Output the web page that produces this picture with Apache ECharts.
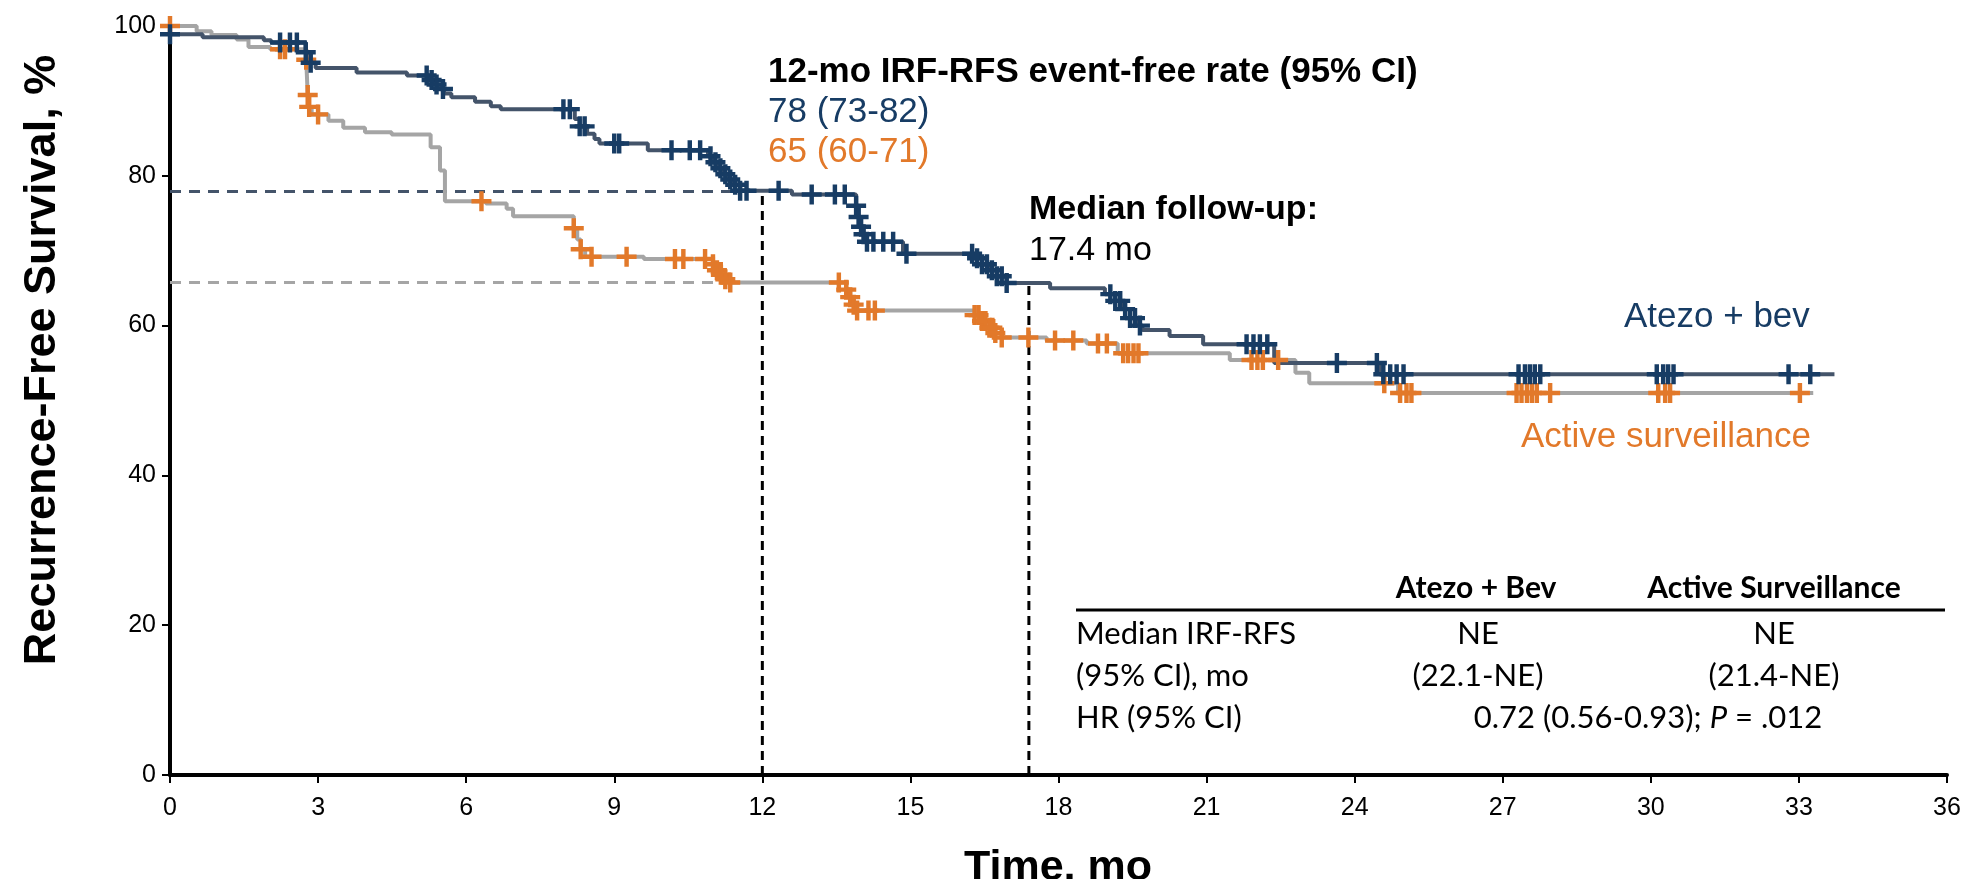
<!DOCTYPE html>
<html>
<head>
<meta charset="utf-8">
<script src="https://cdn.jsdelivr.net/npm/echarts@6/dist/echarts.min.js"></script>
<style>
  html, body { margin: 0; padding: 0; background: #fff; }
  #chart { width: 1972px; height: 879px; }
</style>
</head>
<body>
<div id="chart"></div>
<script>
// Kaplan-Meier steps: [month, survival % after the event]
const atezoSteps = [
  [0, 98.9], [0.66, 98.5], [1.9, 98.1], [2.05, 97.8], [2.75, 96.5], [2.85, 95.1], [2.95, 94.4],
  [3.78, 93.8], [4.8, 93.4], [5.25, 92.8], [5.35, 92.2], [5.45, 91.6], [5.55, 91.0], [5.7, 90.5],
  [6.18, 89.9], [6.5, 89.3], [6.7, 88.9], [8.2, 87.6], [8.3, 86.6], [8.45, 85.6], [8.6, 84.9],
  [8.7, 84.3], [9.68, 83.4], [10.9, 82.6], [11.0, 81.8], [11.1, 81.0], [11.2, 80.2], [11.3, 79.5],
  [11.4, 78.8], [11.55, 78.0], [12.6, 77.5], [13.9, 76.0], [13.95, 74.5], [14.0, 73.2], [14.05, 72.2],
  [14.12, 71.2], [14.85, 69.6], [16.3, 69.0], [16.45, 68.2], [16.6, 67.4], [16.75, 66.6], [16.95, 65.7],
  [17.83, 65.0], [18.94, 64.2], [19.15, 63.3], [19.3, 62.2], [19.45, 61.0], [19.6, 60.0], [19.7, 59.4],
  [20.25, 58.6], [20.93, 57.5], [22.37, 55.0], [24.5, 53.5], [33.72, 53.5]
];
const survSteps = [
  [0, 100], [0.54, 99.3], [0.84, 98.8], [1.35, 98.2], [1.59, 97.2], [2.03, 96.9], [2.76, 95.5],
  [2.79, 90.8], [2.82, 89.2], [2.87, 88.2], [3.21, 87.35], [3.51, 86.4], [3.95, 85.8], [4.49, 85.5],
  [5.28, 83.8], [5.47, 80.7], [5.57, 76.6], [6.4, 76.3], [6.82, 75.6], [6.95, 74.6], [8.18, 73.0],
  [8.25, 71.5], [8.32, 70.2], [8.41, 69.2], [9.6, 68.9], [11.0, 68.2], [11.08, 67.4], [11.16, 66.8],
  [11.25, 66.2], [11.35, 65.75], [13.7, 64.8], [13.78, 63.8], [13.85, 62.8], [13.92, 62.0],
  [16.3, 61.4], [16.45, 60.6], [16.6, 59.7], [16.72, 59.0], [16.85, 58.4], [17.76, 58.0],
  [18.57, 57.6], [19.2, 56.3], [21.47, 55.4], [22.8, 53.7], [23.08, 52.3], [24.88, 51.0], [33.29, 51.0]
];

// censoring times (months)
const atezoCensor = [
  0, 2.23, 2.43, 2.57, 2.75, 2.85, 5.2, 5.3, 5.4, 5.53, 7.97, 8.1, 8.3, 8.4, 9.0, 9.1,
  10.16, 10.53, 10.74, 10.95, 11.05, 11.15, 11.25, 11.35, 11.45, 11.55, 11.68, 12.33, 13.0,
  13.47, 13.67, 13.9, 13.95, 14.0, 14.05, 14.12, 14.25, 14.45, 14.65, 14.92,
  16.25, 16.35, 16.45, 16.55, 16.65, 16.75, 16.85, 16.95, 19.05, 19.15, 19.25, 19.35, 19.45,
  19.55, 19.65, 21.81, 21.95, 22.08, 22.23, 23.64, 24.45, 24.58, 24.72, 24.85, 24.99,
  27.32, 27.45, 27.55, 27.65, 27.76, 30.12, 30.25, 30.35, 30.46, 32.79, 33.23
];
const survCensor = [
  0, 2.23, 2.33, 2.76, 2.79, 2.82, 3.0, 6.31, 8.18, 8.32, 8.54, 9.25, 10.23, 10.4, 10.84,
  11.0, 11.08, 11.16, 11.25, 11.35, 13.55, 13.7, 13.78, 13.85, 13.92, 14.15, 14.28,
  16.3, 16.38, 16.45, 16.52, 16.6, 16.66, 16.72, 16.85, 17.39, 17.93, 18.3, 18.8, 18.98,
  19.31, 19.41, 19.52, 19.62, 21.91, 22.03, 22.14, 22.45, 24.6, 24.92, 25.05, 25.15,
  27.28, 27.38, 27.49, 27.59, 27.69, 27.96, 30.15, 30.29, 30.39, 33.02
];

// reference lines
const atezoRate12 = [[0, 77.9], [11.5, 77.9]];
const survRate12 = [[0, 65.75], [11.3, 65.75]];
const month12Line = [[12, 0], [12, 77.9]];
const followUpLine = [[17.4, 0], [17.4, 65.5]];

const xTicks = { min: 0, max: 36, interval: 3 };
const yTicks = { min: 0, max: 100, interval: 20 };

const BLUE_LINE = '#44546a';
const GRAY_LINE = '#a5a5a5';
const BLUE_MARK = '#173c64';
const ORANGE = '#e2792a';
const PLUS = 'path://M7,0 H11 V7 H18 V11 H11 V18 H7 V11 H0 V7 H7 Z';
const ARIAL = '"Liberation Sans", Arial, sans-serif';
const TABLE_FONT = 'Lato, "Liberation Sans", sans-serif';

function survAt(steps, t) {
  let v = steps[0][1];
  for (const [st, sv] of steps) {
    if (st <= t) v = sv; else break;
  }
  return v;
}

function dashLine(data, color, dash) {
  return {
    type: 'line', data: data, symbol: 'none', silent: true, z: 1,
    lineStyle: { color: color, width: 3, type: dash }
  };
}

function txt(x, y, text, opts, rotation) {
  return {
    type: 'text', x: x, y: y, z: 100, rotation: rotation || 0,
    style: Object.assign({
      text: text, fontFamily: ARIAL, fontSize: 35, fill: '#000',
      align: 'left', verticalAlign: 'middle'
    }, opts || {})
  };
}

const chart = echarts.init(document.getElementById('chart'));

chart.setOption({
  animation: false,
  backgroundColor: '#fff',
  grid: { left: 170, right: 25, top: 26, bottom: 104 },
  xAxis: {
    type: 'value', min: xTicks.min, max: xTicks.max, interval: xTicks.interval,
    axisLine: { lineStyle: { color: '#000', width: 4 } },
    axisTick: { show: true, length: 8, lineStyle: { color: '#000', width: 2 } },
    axisLabel: { color: '#000', fontSize: 25, fontFamily: ARIAL, margin: 21 },
    splitLine: { show: false }
  },
  yAxis: {
    type: 'value', min: yTicks.min, max: yTicks.max, interval: yTicks.interval,
    axisLine: { show: true, lineStyle: { color: '#000', width: 4 } },
    axisTick: { show: true, length: 8, lineStyle: { color: '#000', width: 2 } },
    axisLabel: { color: '#000', fontSize: 25, fontFamily: ARIAL, margin: 14 },
    splitLine: { show: false }
  },
  series: [
    dashLine(atezoRate12, BLUE_LINE, [11, 8]),
    dashLine(survRate12, GRAY_LINE, [11, 8]),
    dashLine(month12Line, '#000', [9, 6]),
    dashLine(followUpLine, '#000', [9, 6]),
    {
      name: 'Active surveillance', type: 'line', step: 'end', data: survSteps,
      symbol: 'none', z: 2, lineStyle: { color: GRAY_LINE, width: 4 }
    },
    {
      name: 'Atezo + bev', type: 'line', step: 'end', data: atezoSteps,
      symbol: 'none', z: 3, lineStyle: { color: BLUE_LINE, width: 4 }
    },
    {
      type: 'scatter', z: 4, symbol: PLUS, symbolSize: 20,
      data: survCensor.map(t => [t, survAt(survSteps, t)]),
      itemStyle: { color: ORANGE, opacity: 1 }
    },
    {
      type: 'scatter', z: 5, symbol: PLUS, symbolSize: 20,
      data: atezoCensor.map(t => [t, survAt(atezoSteps, t)]),
      itemStyle: { color: BLUE_MARK, opacity: 1 }
    }
  ],
  graphic: [
    // axis titles
    txt(43, 360, 'Recurrence-Free Survival, %', {
      fontSize: 45, fontWeight: 'bold', align: 'center'
    }, Math.PI / 2),
    txt(1058, 868, 'Time, mo', { fontSize: 43, fontWeight: 'bold', align: 'center' }),
    // annotations
    txt(768, 72, '12-mo IRF-RFS event-free rate (95% CI)', { fontWeight: 'bold' }),
    txt(768, 112, '78 (73-82)', { fill: BLUE_MARK }),
    txt(768, 152, '65 (60-71)', { fill: ORANGE }),
    txt(1029, 210, 'Median follow-up:', { fontWeight: 'bold', fontSize: 34 }),
    txt(1029, 251, '17.4 mo', { fontSize: 34 }),
    txt(1624, 317, 'Atezo + bev', { fill: BLUE_MARK }),
    txt(1521, 437, 'Active surveillance', { fill: ORANGE }),
    // table
    txt(1476, 588, 'Atezo + Bev', { fontFamily: TABLE_FONT, fontSize: 30, fontWeight: 'bold', align: 'center' }),
    txt(1774, 588, 'Active Surveillance', { fontFamily: TABLE_FONT, fontSize: 30, fontWeight: 'bold', align: 'center' }),
    {
      type: 'line', z: 100,
      shape: { x1: 1076, y1: 610, x2: 1945, y2: 610 },
      style: { stroke: '#000', lineWidth: 3 }
    },
    txt(1076, 634, 'Median IRF-RFS', { fontFamily: TABLE_FONT, fontSize: 31 }),
    txt(1076, 676, '(95% CI), mo', { fontFamily: TABLE_FONT, fontSize: 31 }),
    txt(1076, 718, 'HR (95% CI)', { fontFamily: TABLE_FONT, fontSize: 31 }),
    txt(1478, 634, 'NE', { fontFamily: TABLE_FONT, fontSize: 31, align: 'center' }),
    txt(1774, 634, 'NE', { fontFamily: TABLE_FONT, fontSize: 31, align: 'center' }),
    txt(1478, 676, '(22.1-NE)', { fontFamily: TABLE_FONT, fontSize: 31, align: 'center' }),
    txt(1774, 676, '(21.4-NE)', { fontFamily: TABLE_FONT, fontSize: 31, align: 'center' }),
    txt(1648, 718, '0.72 (0.56-0.93); {i|P} = .012', {
      fontFamily: TABLE_FONT, fontSize: 31, align: 'center',
      rich: { i: { fontFamily: TABLE_FONT, fontSize: 31, fontStyle: 'italic', fill: '#000' } }
    })
  ]
});
</script>
</body>
</html>
